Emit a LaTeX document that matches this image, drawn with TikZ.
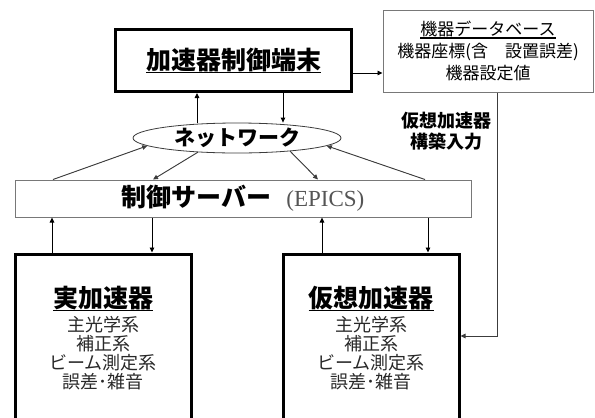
\documentclass[tikz,border=0pt]{standalone}
\usepackage{fontspec}
\setmainfont{Liberation Serif}
\newfontfamily\jp{Noto Sans CJK JP}
\usepackage{tikz}
\usetikzlibrary{arrows.meta, shapes.geometric}
\definecolor{framecol}{RGB}{120,120,120}
\definecolor{linkcol}{RGB}{60,60,60}
\definecolor{bodycol}{RGB}{40,40,40}
\definecolor{epicscol}{RGB}{85,85,85}

% underlined heading: depth of the rule, text
\newsavebox{\hdbox}
\newcommand{\hdline}[2]{\sbox{\hdbox}{#2}\rlap{\usebox{\hdbox}}\rule[#1]{\wd\hdbox}{1.3pt}}

\begin{document}
\begin{tikzpicture}[
    x=1pt, y=-1pt,
    arr/.style={-{Triangle[length=5pt, width=4.5pt]}, line width=0.9pt},
    diag/.style={arr, draw=linkcol, fill=linkcol},
    mainbox/.style={draw=black, line width=3pt, fill=white, align=center, inner sep=0pt},
    thinbox/.style={draw=framecol, line width=1pt, fill=white, align=center, inner sep=0pt},
]

\fill[white] (0,0) rectangle (595,418);
\useasboundingbox (0,0) rectangle (595,418);

% ════════════════════════════════════════════════════════
% 1. TERMINAL, DATABASE, NETWORK
% ════════════════════════════════════════════════════════
\node[mainbox, minimum width=236pt, minimum height=62pt,
      font=\jp\fontsize{25}{28}\selectfont\bfseries] (term) at (233.5,60.5)
    {\hdline{-4pt}{加速器制御端末}};

\node[thinbox, minimum width=210pt, minimum height=82pt,
      font=\jp\fontsize{17}{22}\selectfont] (db) at (488,51)
    {\hdline{-3pt}{機器データベース}\\ 機器座標(含　設置誤差)\\ 機器設定値};

\node[ellipse, draw=linkcol, line width=0.8pt, minimum width=208pt, minimum height=30pt,
      inner sep=0pt, font=\jp\fontsize{21}{24}\selectfont\bfseries] (net) at (237,138)
    {ネットワーク};

% ════════════════════════════════════════════════════════
% 2. SERVER AND THE TWO ACCELERATORS
% ════════════════════════════════════════════════════════
\node[thinbox, minimum width=456pt, minimum height=37pt] (srv) at (243,198.5)
    {{\jp\fontsize{25}{28}\selectfont\bfseries 制御サーバー}\hspace{15pt}%
     {\color{epicscol}\fontsize{23}{26}\selectfont (EPICS)}};

\node[mainbox, minimum width=176pt, minimum height=168pt, text=bodycol,
      font=\jp\fontsize{18}{19}\selectfont] (real) at (103,338)
    {{\fontsize{25}{28}\selectfont\bfseries\color{black}\hdline{-4pt}{実加速器}}\\[4pt]
     主光学系\\ 補正系\\ ビーム測定系\\ 誤差･雑音};

\node[mainbox, minimum width=176pt, minimum height=168pt, text=bodycol,
      font=\jp\fontsize{18}{19}\selectfont] (virt) at (371,338)
    {{\fontsize{25}{28}\selectfont\bfseries\color{black}\hdline{-4pt}{仮想加速器}}\\[4pt]
     主光学系\\ 補正系\\ ビーム測定系\\ 誤差･雑音};

\node[font=\jp\fontsize{18}{21}\selectfont\bfseries, align=center, inner sep=0pt] (feedlbl)
    at (446,131.5) {仮想加速器\\構築入力};

% ════════════════════════════════════════════════════════
% 3. CONNECTORS
% ════════════════════════════════════════════════════════
\draw[arr] ([yshift=-12.5pt]term.east) -- ([yshift=-22pt]db.west);

\draw[arr] ([xshift=-40pt]net.north) -- ([xshift=-36.5pt]term.south);
\draw[arr] ([xshift=49.5pt]term.south) -- ([xshift=46pt]net.north);

\draw[diag] ([xshift=-190pt]srv.north) -- (net.185);
\draw[diag] (net.200) -- ([xshift=-90pt]srv.north);
\draw[diag] (net.346) -- ([xshift=75pt]srv.north);
\draw[diag] ([xshift=182pt]srv.north) -- (net.355);

\draw[arr] ([xshift=-51pt]real.north) -- ([xshift=-191pt]srv.south);
\draw[arr] ([xshift=-91pt]srv.south) -- ([xshift=49pt]real.north);
\draw[arr] ([xshift=-49pt]virt.north) -- ([xshift=79pt]srv.south);
\draw[arr] ([xshift=185pt]srv.south) -- ([xshift=57pt]virt.north);

% database feeds the virtual accelerator
\coordinate (feed) at (497,336);
\draw[arr, draw=linkcol] (db.south -| feed) -- (feed) -- (virt.east |- feed);

\end{tikzpicture}
\end{document}
